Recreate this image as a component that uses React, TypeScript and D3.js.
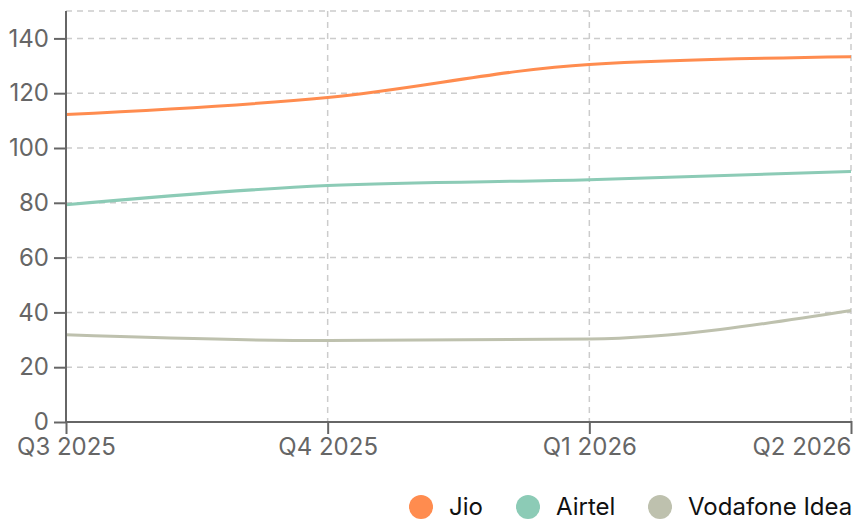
import React, { useEffect, useRef } from 'react';
import * as d3 from 'd3';

const quarters = ['Q3 2025', 'Q4 2025', 'Q1 2026', 'Q2 2026'];
const jio = [112.2, 118.4, 130.5, 133.3];
const airtel = [79.3, 86.3, 88.4, 91.4];
const vodafone = [31.8, 29.7, 30.3, 40.7];
const yTicks = [0, 20, 40, 60, 80, 100, 120, 140];

const seriesNames = ['Jio', 'Airtel', 'Vodafone Idea'];
const seriesColors = ['#ff8c4f', '#8ccbb6', '#bec1ae'];

const App = () => {
  const ref = useRef<SVGSVGElement>(null);

  useEffect(() => {
    const svg = d3.select(ref.current);
    svg.selectAll('*').remove();

    const margin = { top: 11, right: 15, bottom: 98, left: 66 };
    const width = 866 - margin.left - margin.right;
    const height = 520 - margin.top - margin.bottom;
    const font = 'Inter, sans-serif';

    const x = d3.scalePoint().domain(quarters).range([0, width]);
    const y = d3.scaleLinear().domain([0, 150]).range([height, 0]);

    const g = svg.append('g').attr('transform', `translate(${margin.left},${margin.top})`);

    // grid
    g.selectAll('.hgrid')
      .data([...yTicks, 150])
      .enter()
      .append('line')
      .attr('x1', 0)
      .attr('x2', width)
      .attr('y1', (d) => y(d))
      .attr('y2', (d) => y(d))
      .attr('stroke', '#cccccc')
      .attr('stroke-width', 1.5)
      .attr('stroke-dasharray', '6,5');
    g.selectAll('.vgrid')
      .data(quarters)
      .enter()
      .append('line')
      .attr('x1', (d) => x(d)!)
      .attr('x2', (d) => x(d)!)
      .attr('y1', 0)
      .attr('y2', height)
      .attr('stroke', '#cccccc')
      .attr('stroke-width', 1.5)
      .attr('stroke-dasharray', '6,5');

    // lines
    const line = d3
      .line<number>()
      .x((_, i) => x(quarters[i])!)
      .y((d) => y(d))
      .curve(d3.curveMonotoneX);
    [jio, airtel, vodafone].forEach((vals, i) => {
      g.append('path')
        .datum(vals)
        .attr('fill', 'none')
        .attr('stroke', seriesColors[i])
        .attr('stroke-width', 3)
        .attr('d', line);
    });

    // axes
    const yAxis = g
      .append('g')
      .call(d3.axisLeft(y).tickValues(yTicks).tickSize(12).tickSizeOuter(0).tickPadding(5));
    const xAxis = g
      .append('g')
      .attr('transform', `translate(0,${height})`)
      .call(d3.axisBottom(x).tickSize(12).tickSizeOuter(0).tickPadding(4));

    [yAxis, xAxis].forEach((ax) => {
      ax.select('.domain').attr('stroke', '#666').attr('stroke-width', 2);
      ax.selectAll('.tick line').attr('stroke', '#666').attr('stroke-width', 2);
      ax.selectAll('.tick text').attr('fill', '#666').attr('font-size', 24).attr('font-family', font);
    });
    xAxis.selectAll('.tick line').attr('y1', -1).attr('y2', 12);
    yAxis.selectAll('.tick line').attr('x1', 1).attr('x2', -12);
    xAxis
      .selectAll<SVGTextElement, string>('.tick text')
      .attr('text-anchor', (d) => (d === quarters[quarters.length - 1] ? 'end' : 'middle'));
    xAxis.select('.domain').attr('d', `M0,0H${width}`);
    yAxis.select('.domain').attr('d', `M0,0V${height}`);

    // legend
    const legendX = [421, 528, 660];
    const legend = svg.append('g');
    seriesNames.forEach((name, i) => {
      legend
        .append('circle')
        .attr('cx', legendX[i])
        .attr('cy', 507)
        .attr('r', 12)
        .attr('fill', seriesColors[i]);
      legend
        .append('text')
        .attr('x', legendX[i] + 28)
        .attr('y', 507)
        .attr('dy', '0.35em')
        .attr('font-size', 24)
        .attr('font-family', font)
        .attr('fill', '#111')
        .text(name);
    });
  }, []);

  return <svg ref={ref} width={866} height={520} style={{ position: 'absolute', left: 0, top: 0 }}></svg>;
};

export default App;
